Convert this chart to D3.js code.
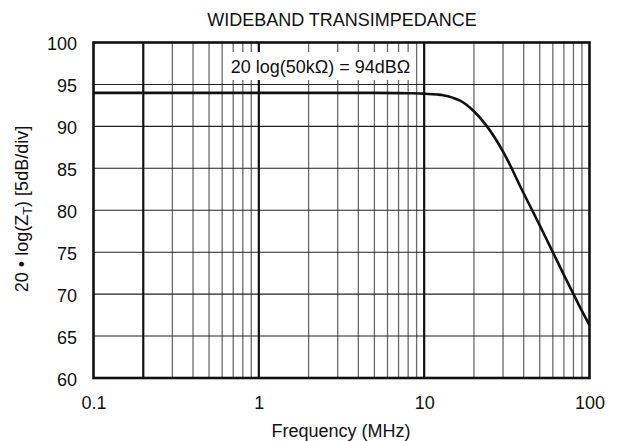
<!DOCTYPE html>
<html>
<head>
<meta charset="utf-8">
<script src="https://cdn.jsdelivr.net/npm/d3@7"></script>
<style>
  html, body { margin: 0; padding: 0; background: #fff; }
  svg { display: block; font-family: "Liberation Sans", Arial, Helvetica, sans-serif; }
</style>
</head>
<body>
<svg id="chart" width="618" height="441"></svg>
<script>
// ---- data ----
const freqMHz = [0.1, 1, 5, 8, 10, 12, 13, 15, 16.5, 20, 24, 30, 40, 50, 60, 70, 80, 90, 100];
const gainDB  = [94, 94, 94, 93.95, 93.9, 93.8, 93.72, 93.4, 93.07, 91.8, 90.0, 87.0, 82.0, 78.2, 75.0, 72.3, 70.0, 68.0, 66.3];
const xTickValues = [0.1, 1, 10, 100];
const xTickLabels = ["0.1", "1", "10", "100"];
const yTickValues = [60, 65, 70, 75, 80, 85, 90, 95, 100];
const boldVerticals = [0.2, 1, 10];
const titleText = "WIDEBAND TRANSIMPEDANCE";
const xLabelText = "Frequency (MHz)";
const annotationText = "20 log(50k\u03A9) = 94dB\u03A9";

// ---- layout ----
const svg = d3.select("#chart");
const L = 93.5, R = 589.5, T = 42.5, B = 378;
const x = d3.scaleLog().domain([0.1, 100]).range([L, R]);
const y = d3.scaleLinear().domain([60, 100]).range([B, T]);

// minor vertical grid values (2..9 each decade)
const minorVals = [];
[0.1, 1, 10].forEach(d => { for (let k = 2; k <= 9; k++) minorVals.push(+(d * k).toPrecision(3)); });

const grid = svg.append("g");
grid.selectAll("line.minor").data(minorVals.filter(v => !boldVerticals.includes(v)))
  .join("line").attr("class", "minor")
  .attr("x1", d => x(d)).attr("x2", d => x(d)).attr("y1", T).attr("y2", B)
  .attr("stroke", "#6a6a6a").attr("stroke-width", 1.3);

grid.selectAll("line.h").data(yTickValues.filter(v => v > 60 && v < 100))
  .join("line").attr("class", "h")
  .attr("x1", L).attr("x2", R).attr("y1", d => y(d)).attr("y2", d => y(d))
  .attr("stroke", "#222").attr("stroke-width", 1.1);

grid.selectAll("line.bold").data(boldVerticals)
  .join("line").attr("class", "bold")
  .attr("x1", d => x(d)).attr("x2", d => x(d)).attr("y1", T).attr("y2", B)
  .attr("stroke", "#111").attr("stroke-width", 2.2);

// annotation box (white background over grid)
const annG = svg.append("g");
annG.append("rect").attr("x", 225).attr("y", 52).attr("width", 191).attr("height", 28).attr("fill", "#fff");
annG.append("text").attr("x", 320.5).attr("y", 72.5).attr("text-anchor", "middle")
  .attr("font-size", 18).attr("fill", "#111").text(annotationText);

// curve
const line = d3.line().x((d, i) => x(freqMHz[i])).y(d => y(d)).curve(d3.curveMonotoneX);
svg.append("path").datum(gainDB).attr("d", line)
  .attr("fill", "none").attr("stroke", "#111").attr("stroke-width", 2.6);

// frame
svg.append("rect").attr("x", L).attr("y", T).attr("width", R - L).attr("height", B - T)
  .attr("fill", "none").attr("stroke", "#111").attr("stroke-width", 2.6);

// axes
const xAxis = d3.axisBottom(x).tickValues(xTickValues).tickSize(0).tickPadding(18)
  .tickFormat((d, i) => xTickLabels[i]);
const gx = svg.append("g").attr("transform", `translate(0,${B})`).call(xAxis);
gx.select(".domain").remove();
gx.selectAll("text").attr("font-size", 18).attr("fill", "#111").attr("font-family", null);

const yAxis = d3.axisLeft(y).tickValues(yTickValues).tickSize(0).tickPadding(16.5);
const gy = svg.append("g").attr("transform", `translate(${L},0)`).call(yAxis);
gy.select(".domain").remove();
gy.selectAll("text").attr("font-size", 18).attr("fill", "#111").attr("font-family", null).attr("dy", "0.4em");

// title
svg.append("text").attr("x", 342).attr("y", 25.5).attr("text-anchor", "middle")
  .attr("font-size", 18).attr("fill", "#111").text(titleText);

// x label
svg.append("text").attr("x", 341).attr("y", 437).attr("text-anchor", "middle")
  .attr("font-size", 18).attr("fill", "#111").text(xLabelText);

// y label
const yl = svg.append("text").attr("transform", "translate(28,209) rotate(-90)")
  .attr("text-anchor", "middle").attr("font-size", 18).attr("fill", "#111");
yl.append("tspan").text("20 \u2022 log(Z");
yl.append("tspan").attr("font-size", 13).attr("dy", 4).text("T");
yl.append("tspan").attr("dy", -4).text(") [5dB/div]");
</script>
</body>
</html>
